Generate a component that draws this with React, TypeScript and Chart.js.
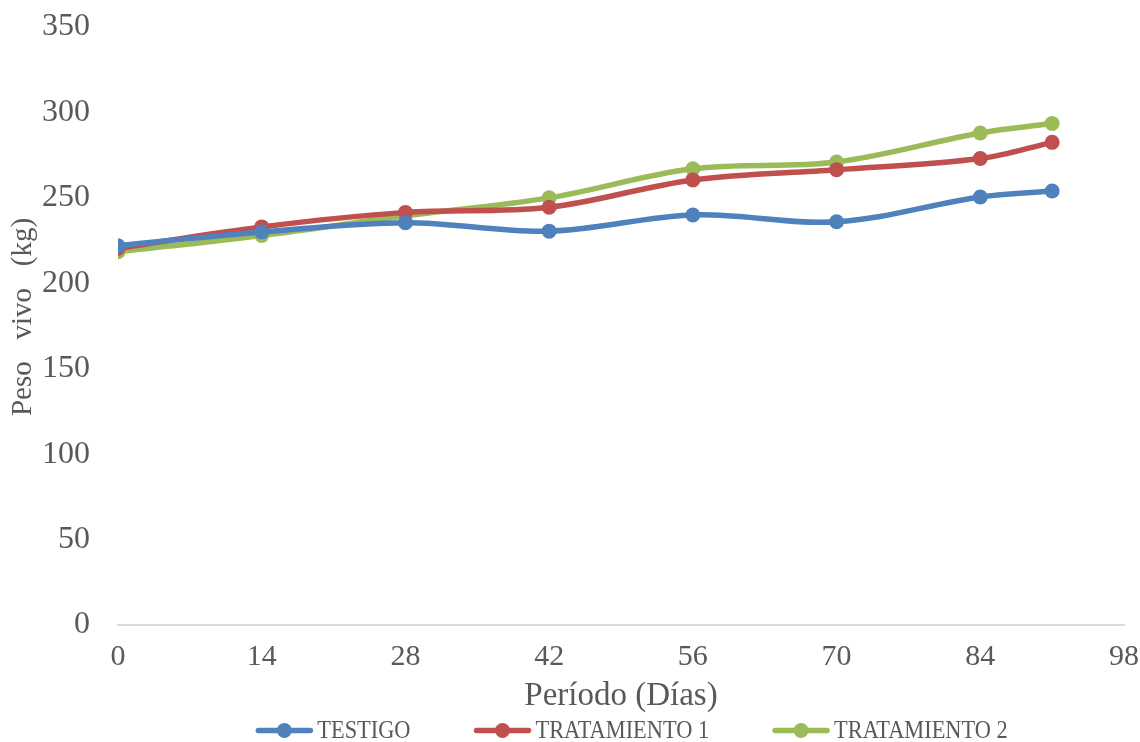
import React, { useEffect, useRef } from "react";
import { Chart, registerables } from "chart.js";

Chart.register(...registerables);

const days = [0, 14, 28, 42, 56, 70, 84, 91];
const testigo = [222, 230, 235.5, 230.5, 240, 236, 250.5, 254];
const tratamiento1 = [220.5, 233, 241.5, 244.5, 260.5, 266.5, 273, 282.5];
const tratamiento2 = [218.5, 228, 239.5, 250, 267, 271, 288, 293.5];
const seriesNames = ["TESTIGO", "TRATAMIENTO 1", "TRATAMIENTO 2"];
const seriesColors = ["#4F81BD", "#C0504D", "#9BBB59"];
const xTitle = "Período (Días)";
const yTitle = "Peso   vivo   (kg)";

const TEXT = "#595959";
const SERIF = "'Liberation Serif', 'Times New Roman', serif";

const overlayPlugin = {
  id: "overlayText",
  afterDraw(chart: any) {
    const ctx = chart.ctx as CanvasRenderingContext2D;
    const ca = chart.chartArea;
    ctx.save();
    ctx.fillStyle = TEXT;

    // y axis title
    ctx.font = `29px ${SERIF}`;
    ctx.textAlign = "center";
    ctx.textBaseline = "alphabetic";
    ctx.save();
    ctx.translate(31, (ca.top + ca.bottom) / 2 - 9);
    ctx.rotate(-Math.PI / 2);
    ctx.fillText(yTitle, 0, 0);
    ctx.restore();

    // legend
    const sx = 0.86;
    ctx.font = `26px ${SERIF}`;
    const widths = seriesNames.map((n) => ctx.measureText(n).width * sx);
    const lineLen = 56;
    const textGap = 5;
    const itemGap = 64;
    const total =
      widths.reduce((a, w) => a + lineLen + textGap + w, 0) + itemGap * (seriesNames.length - 1);
    let x = (ca.left + ca.right) / 2 + 11 - total / 2;
    const y = 730.5;
    ctx.textAlign = "left";
    ctx.textBaseline = "middle";
    seriesNames.forEach((name, i) => {
      const c = seriesColors[i];
      ctx.strokeStyle = c;
      ctx.lineWidth = 5.5;
      ctx.lineCap = "round";
      ctx.beginPath();
      ctx.moveTo(x + 2, y);
      ctx.lineTo(x + lineLen - 2, y);
      ctx.stroke();
      ctx.fillStyle = c;
      ctx.beginPath();
      ctx.arc(x + lineLen / 2, y, 7.5, 0, Math.PI * 2);
      ctx.fill();
      ctx.fillStyle = TEXT;
      ctx.save();
      ctx.translate(x + lineLen + textGap, y + 1);
      ctx.scale(sx, 1);
      ctx.fillText(name, 0, 0);
      ctx.restore();
      x += lineLen + textGap + widths[i] + itemGap;
    });
    ctx.restore();
  },
};

export default function App() {
  const ref = useRef<HTMLCanvasElement | null>(null);

  useEffect(() => {
    document.body.style.margin = "0";
    const all = [testigo, tratamiento1, tratamiento2];
    const chart = new Chart(ref.current!, {
      type: "line",
      data: {
        datasets: all.map((vals, i) => ({
          label: seriesNames[i],
          data: days.map((d, j) => ({ x: d, y: vals[j] })),
          borderColor: seriesColors[i],
          backgroundColor: seriesColors[i],
          borderWidth: 5.5,
          pointRadius: 7.5,
          pointHoverRadius: 7.5,
          pointBorderWidth: 0,
          tension: 0.35,
          fill: false,
        })),
      },
      options: {
        animation: false,
        responsive: true,
        maintainAspectRatio: false,
        layout: { padding: { top: 27, right: 16, left: 0, bottom: 0 } },
        plugins: {
          tooltip: { enabled: false },
          legend: { display: false },
        },
        scales: {
          x: {
            type: "linear",
            min: 0,
            max: 98,
            ticks: {
              stepSize: 14,
              color: TEXT,
              font: { family: SERIF, size: 30 },
              padding: 14,
            },
            grid: { display: false, drawTicks: false },
            border: { display: true, color: "#D9D9D9", width: 2 },
            title: {
              display: true,
              text: xTitle,
              color: TEXT,
              font: { family: SERIF, size: 33 },
              padding: { top: 0, bottom: 26 },
            },
            afterFit: (s: any) => {
              s.height = 117;
              s.paddingLeft = 0;
              s.paddingRight = 0;
            },
          },
          y: {
            min: 0,
            max: 350,
            ticks: {
              stepSize: 50,
              color: TEXT,
              font: { family: SERIF, size: 32 },
              padding: 28,
            },
            grid: { display: false, drawTicks: false },
            border: { display: false },
            afterFit: (s: any) => {
              s.width = 118;
              s.paddingTop = 0;
              s.paddingBottom = 0;
            },
          },
        },
      },
      plugins: [overlayPlugin],
    });
    return () => chart.destroy();
  }, []);

  return (
    <div style={{ position: "fixed", left: 0, top: 0, width: 1140, height: 742, background: "#fff" }}>
      <canvas ref={ref} />
    </div>
  );
}
